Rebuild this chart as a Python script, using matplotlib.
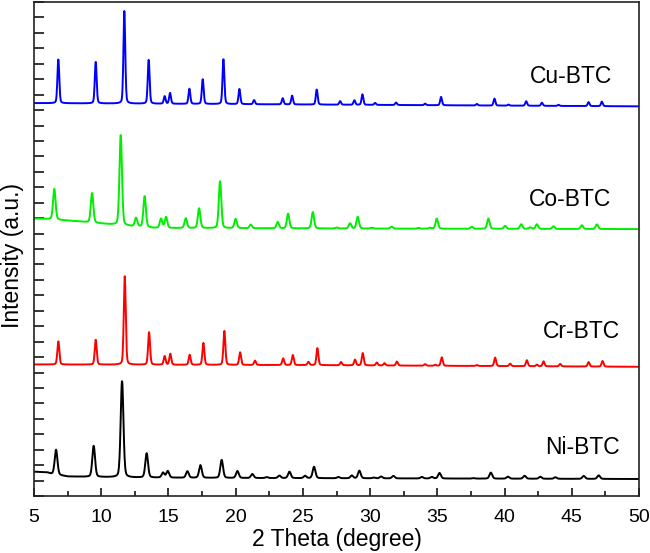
import numpy as np
import matplotlib.pyplot as plt
from matplotlib.ticker import MultipleLocator, NullFormatter

plt.rcParams['font.family'] = ['Liberation Sans', 'DejaVu Sans']

# peak positions (2 theta) and heights above baseline (a.u.)
cu_pos = [6.81, 9.59, 11.72, 13.53, 14.72, 15.12, 16.56, 17.55, 19.09, 20.28, 21.37, 23.5, 24.2, 26.03,
          27.77, 28.83, 29.43, 30.37, 31.93, 34.09, 35.28, 37.94, 39.25, 40.29, 41.61, 42.78, 44.01, 46.25, 47.24]
cu_h = [2.86, 2.71, 5.99, 2.86, 0.49, 0.70, 0.98, 1.61, 2.93, 0.98, 0.27, 0.40, 0.57, 0.98,
        0.23, 0.29, 0.68, 0.13, 0.16, 0.10, 0.54, 0.10, 0.45, 0.07, 0.29, 0.20, 0.07, 0.26, 0.29]
cu_base_x = [5, 25, 50]
cu_base_y = [25.45, 25.36, 25.24]

co_pos = [6.51, 9.32, 11.45, 12.59, 13.23, 14.45, 14.82, 16.29, 17.28, 18.84, 20.0, 21.12, 23.13, 23.9, 25.74,
          27.52, 28.51, 29.08, 30.12, 31.6, 33.6, 34.46, 34.96, 37.57, 38.8, 40.04, 41.24, 41.9, 42.4, 43.64, 45.75, 46.87]
co_h = [1.99, 1.92, 5.87, 0.55, 2.01, 0.60, 0.71, 0.63, 1.28, 3.04, 0.60, 0.24, 0.41, 0.95, 1.06,
        0.06, 0.34, 0.76, 0.06, 0.13, 0.05, 0.06, 0.66, 0.13, 0.67, 0.19, 0.30, 0.10, 0.30, 0.17, 0.24, 0.30]
co_base_x = [5, 6, 8, 10, 12, 14, 30, 50]
co_base_y = [17.97, 17.94, 17.81, 17.65, 17.49, 17.36, 17.32, 17.29]

cr_pos = [6.81, 9.59, 11.75, 13.56, 14.72, 15.14, 16.58, 17.6, 19.16, 20.33, 21.44, 23.53, 24.25, 25.41, 26.08,
          27.84, 28.88, 29.45, 30.5, 31.07, 31.99, 34.09, 34.84, 35.33, 37.94, 39.3, 40.42, 41.66, 42.4, 42.9,
          44.14, 46.25, 47.29]
cr_h = [1.51, 1.62, 5.78, 2.11, 0.56, 0.71, 0.65, 1.42, 2.20, 0.82, 0.28, 0.43, 0.65, 0.21, 1.10,
        0.21, 0.37, 0.80, 0.19, 0.15, 0.26, 0.10, 0.06, 0.55, 0.06, 0.55, 0.16, 0.39, 0.10, 0.32,
        0.16, 0.29, 0.36]
cr_base_x = [5, 25, 50]
cr_base_y = [8.52, 8.48, 8.37]

ni_pos = [6.64, 9.44, 11.55, 13.38, 14.6, 14.95, 16.41, 17.38, 18.96, 20.13, 21.24, 22.31, 23.25, 24.0, 25.16,
          25.83, 27.64, 28.64, 29.2, 30.25, 30.82, 31.73, 33.85, 34.59, 35.16, 37.69, 38.98, 40.25, 41.49,
          42.66, 43.78, 45.89, 47.0]
ni_h = [1.62, 2.01, 6.25, 1.57, 0.32, 0.43, 0.42, 0.82, 1.17, 0.45, 0.26, 0.06, 0.16, 0.42, 0.15,
        0.74, 0.08, 0.18, 0.49, 0.05, 0.12, 0.16, 0.10, 0.10, 0.36, 0.03, 0.39, 0.13, 0.19,
        0.13, 0.10, 0.19, 0.23]
ni_base_x = [5, 6.0, 6.3, 7.5, 12, 20, 50]
ni_base_y = [1.574, 1.522, 1.425, 1.263, 1.198, 1.166, 1.101]

names = ['Cu-BTC', 'Co-BTC', 'Cr-BTC', 'Ni-BTC']
colors = ['#0000ff', '#00ee00', '#ff0000', '#000000']
fwhm = [0.16, 0.22, 0.17, 0.24]
label_x = [48.0, 47.93, 48.6, 48.6]
label_y = [26.73, 18.78, 10.21, 2.70]


def pattern(tt, pos, h, bx, by, w):
    y = np.interp(tt, bx, by)
    for p, a in zip(pos, h):
        d = (tt - p) / (w / 2)
        y = y + a * (0.75 * np.exp(-np.log(2) * d ** 2) + 0.25 / (1 + d ** 2))
    return y


tt = np.arange(5, 50.001, 0.02)
series = [(cu_pos, cu_h, cu_base_x, cu_base_y),
          (co_pos, co_h, co_base_x, co_base_y),
          (cr_pos, cr_h, cr_base_x, cr_base_y),
          (ni_pos, ni_h, ni_base_x, ni_base_y)]

fig = plt.figure(figsize=(6.5, 5.53), dpi=100)
ax = fig.add_axes([34 / 650, 1 - 496 / 553, 605 / 650, 494 / 553])

for (pos, h, bx, by), c, w, nm, lx, ly in zip(series, colors, fwhm, names, label_x, label_y):
    ax.plot(tt, pattern(tt, pos, h, bx, by, w), color=c, lw=1.4)
    ax.text(lx, ly, nm, ha='right', va='baseline', fontsize=16.5)

ax.set_xlim(5, 50)
ax.set_ylim(0, 32)
ax.xaxis.set_major_locator(MultipleLocator(5))
ax.xaxis.set_minor_locator(MultipleLocator(2.5))
ax.yaxis.set_major_locator(MultipleLocator(1))
ax.yaxis.set_major_formatter(NullFormatter())
ax.tick_params(axis='x', which='major', direction='in', length=6, width=1.1, labelsize=14, pad=9)
ax.tick_params(axis='x', which='minor', direction='in', length=3.5, width=1.1)
ax.tick_params(axis='y', which='major', direction='in', length=7, width=1.1)
for s in ax.spines.values():
    s.set_linewidth(1.2)
    s.set_color('#222222')

ax.set_xlabel('2 Theta (degree)', fontsize=16.5, labelpad=2)
fig.text(13 / 650, 1 - 255 / 553, 'Intensity (a.u.)', rotation=90,
         ha='center', va='center', fontsize=16.5)

fig.savefig('out.png', dpi=100)
